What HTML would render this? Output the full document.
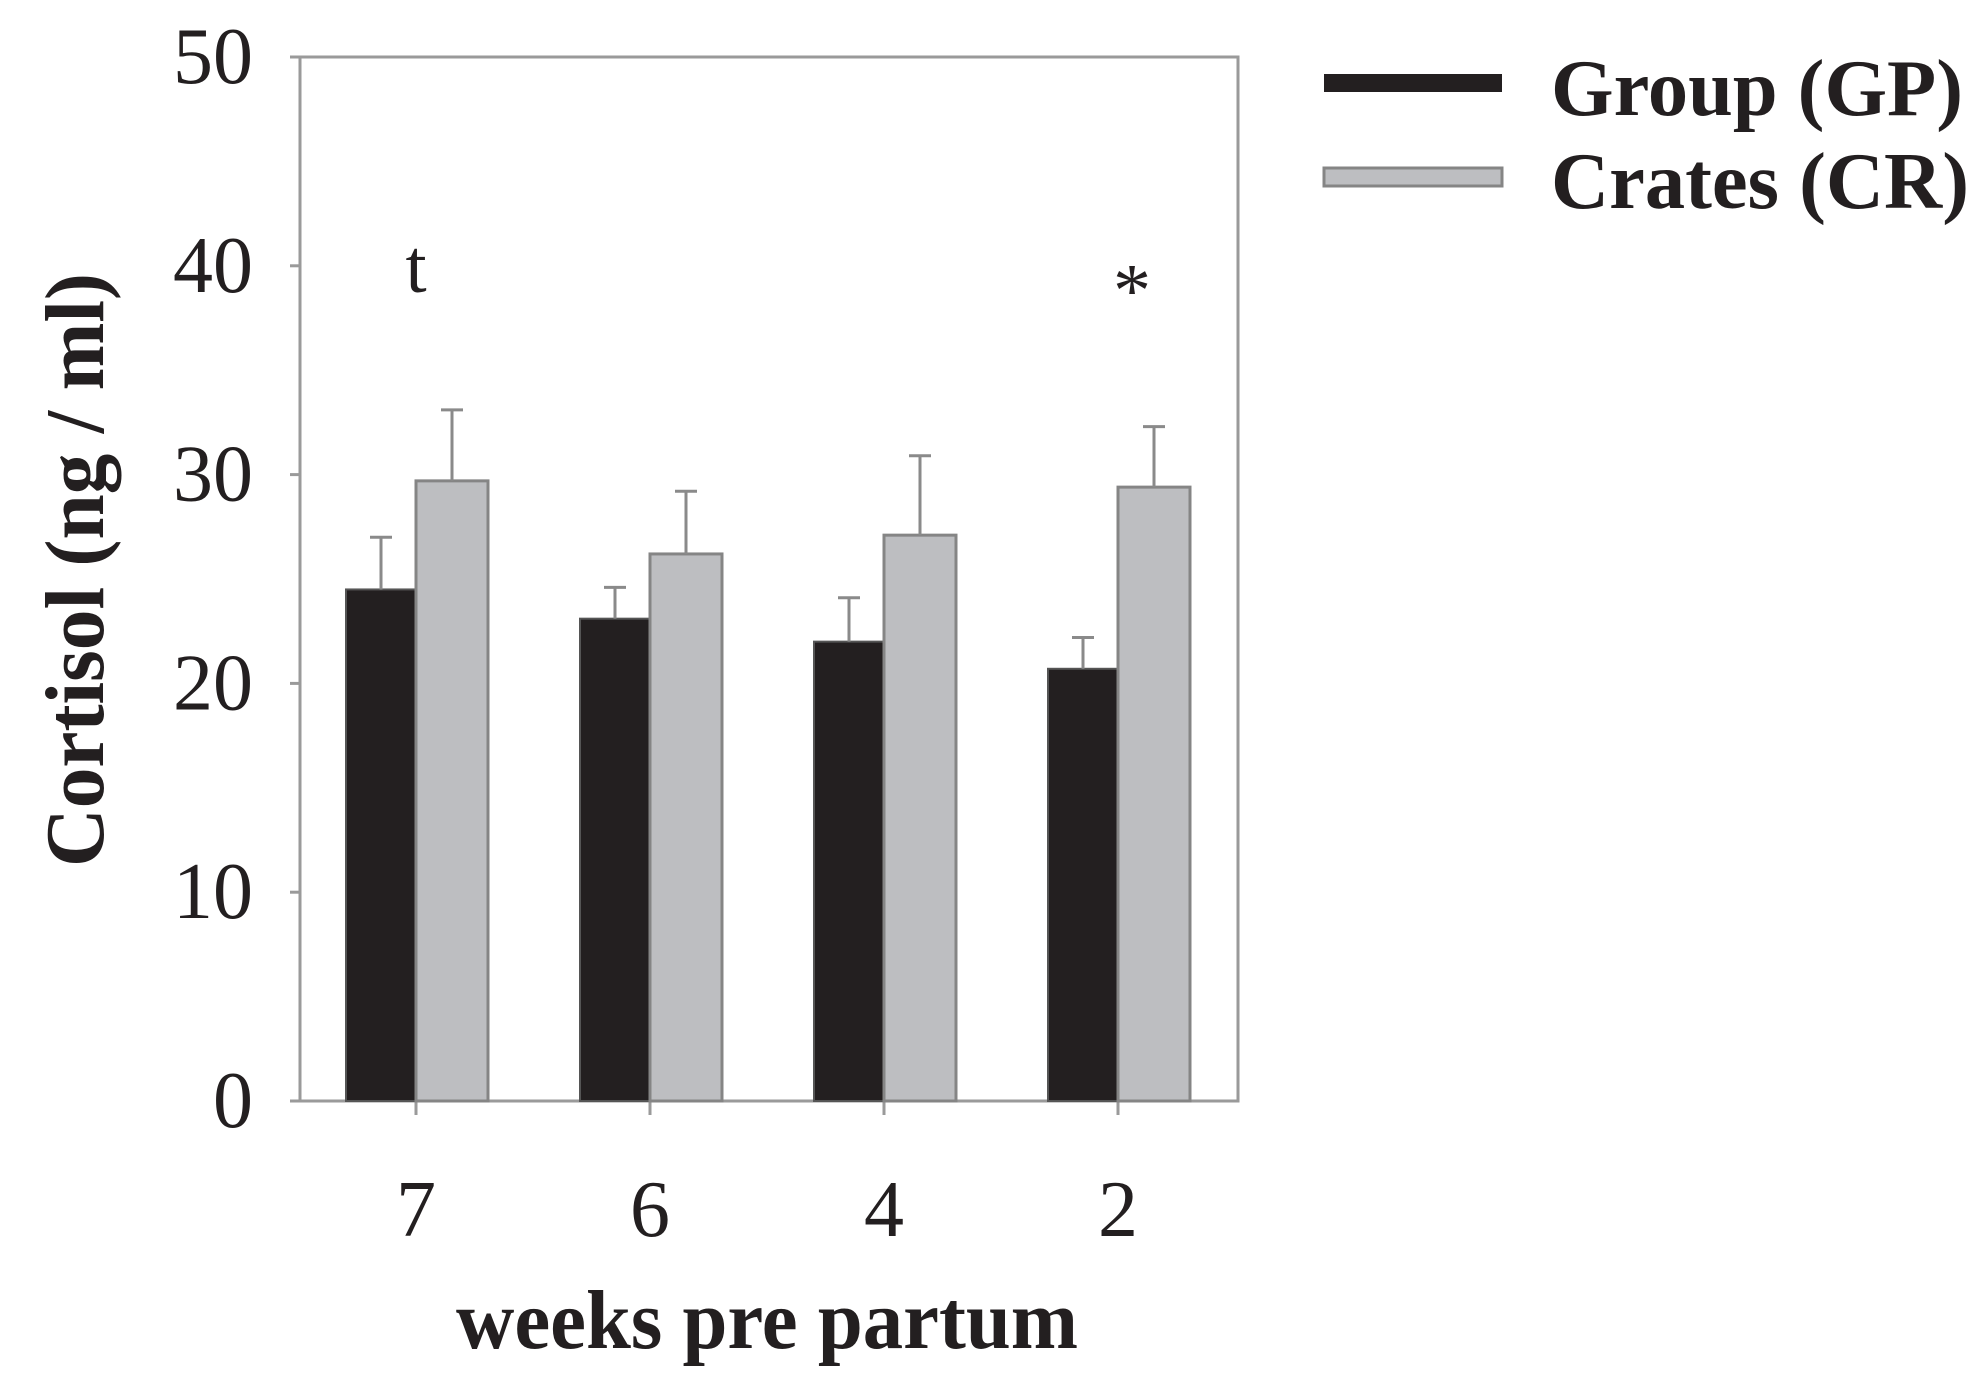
<!DOCTYPE html>
<html><head><meta charset="utf-8"><style>
html,body{margin:0;padding:0;background:#fff;}
svg{display:block;}
</style></head><body>
<svg id="chart" width="1981" height="1391" viewBox="0 0 1981 1391" xmlns="http://www.w3.org/2000/svg">
<g id="axes"></g><g id="bars"></g>
</svg>
<script>
const categories = ["7","6","4","2"];
const gpValues = [24.5, 23.1, 22.0, 20.7];
const gpErr = [2.5, 1.5, 2.1, 1.5];
const crValues = [29.7, 26.2, 27.1, 29.4];
const crErr = [3.4, 3.0, 3.8, 2.9];
const yTicks = [0,10,20,30,40,50];
const marks = ["t","","","*"];

const NS="http://www.w3.org/2000/svg";
const svg=document.getElementById('chart');
const axes=document.getElementById('axes');
const barsG=document.getElementById('bars');
const X0=300,X1=1238,Y0=1101,Y1=57;
const y=v=>Y0-(v/50)*(Y0-Y1);
const BW=70;
function el(tag,attrs,parent){const e=document.createElementNS(NS,tag);for(const k in attrs)e.setAttribute(k,attrs[k]);(parent||svg).appendChild(e);return e;}

const frame=el('rect',{x:X0,y:Y1,width:X1-X0,height:Y0-Y1,fill:'none',stroke:'#9a9a9a','stroke-width':3},axes);



yTicks.forEach(t=>{
  const ln=el('line',{x1:X0-10,x2:X0,y1:y(t),y2:y(t),stroke:'#9a9a9a','stroke-width':3},axes);
  
  
  const tx=el('text',{x:X0-47,y:y(t)+26,'text-anchor':'end','font-family':'"Liberation Serif",serif','font-size':80,fill:'#231f20'},axes);
  tx.textContent=t;
  
  
});

categories.forEach((c,i)=>{
  const cx=X0+117+234*i-1;
  const tk=el('line',{x1:cx,x2:cx,y1:Y0,y2:Y0+14,stroke:'#9a9a9a','stroke-width':3},axes);
  
  
  const tl=el('text',{x:cx,y:1236,'text-anchor':'middle','font-family':'"Liberation Serif",serif','font-size':80,fill:'#231f20'},axes);
  tl.textContent=c;
  
  

  const b1=el('rect',{x:cx-BW,y:y(gpValues[i]),width:BW,height:Y0-y(gpValues[i]),fill:'#231f20',stroke:'#555','stroke-width':2},barsG);
  
  
  const e1=el('path',{d:`M${cx-BW/2},${y(gpValues[i])}V${y(gpValues[i]+gpErr[i])}M${cx-BW/2-11},${y(gpValues[i]+gpErr[i])}H${cx-BW/2+11}`,stroke:'#8a8a8a','stroke-width':3,fill:'none'},barsG);
  
  
  const b2=el('rect',{x:cx,y:y(crValues[i]),width:BW+2,height:Y0-y(crValues[i]),fill:'#bdbec1',stroke:'#858585','stroke-width':3},barsG);
  
  
  const e2=el('path',{d:`M${cx+BW/2+1},${y(crValues[i])}V${y(crValues[i]+crErr[i])}M${cx+BW/2-10},${y(crValues[i]+crErr[i])}H${cx+BW/2+12}`,stroke:'#8a8a8a','stroke-width':3,fill:'none'},barsG);
  
  
  if(marks[i]){
    const m=el('text',{x:cx+(marks[i]==='*'?14:0),y:marks[i]==='*'?316:292,'text-anchor':'middle','font-family':'"Liberation Serif",serif','font-size':76,fill:'#231f20'},barsG);
    m.textContent=marks[i];
    
    
  }
});
</script>
<svg style="position:absolute;left:0;top:0" width="1981" height="1391" xmlns="http://www.w3.org/2000/svg">
<text x="76" y="570" transform="rotate(-90 76 570)" dy="27" text-anchor="middle" textLength="594" lengthAdjust="spacingAndGlyphs" font-family="Liberation Serif, serif" font-weight="bold" font-size="84" fill="#231f20">Cortisol (ng / ml)</text>
<text x="767" y="1348" text-anchor="middle" textLength="622" lengthAdjust="spacingAndGlyphs" font-family="Liberation Serif, serif" font-weight="bold" font-size="84" fill="#231f20">weeks pre partum</text>
<g>
<rect x="1324" y="74" width="178" height="18" fill="#231f20"/>
<text x="1551" y="115" textLength="412" lengthAdjust="spacingAndGlyphs" font-family="Liberation Serif, serif" font-weight="bold" font-size="80" fill="#231f20">Group (GP)</text>
<rect x="1324" y="168" width="178" height="18" fill="#bdbec1" stroke="#858585" stroke-width="3"/>
<text x="1551" y="208" textLength="418" lengthAdjust="spacingAndGlyphs" font-family="Liberation Serif, serif" font-weight="bold" font-size="80" fill="#231f20">Crates (CR)</text>
</g>
</svg>
</body></html>
